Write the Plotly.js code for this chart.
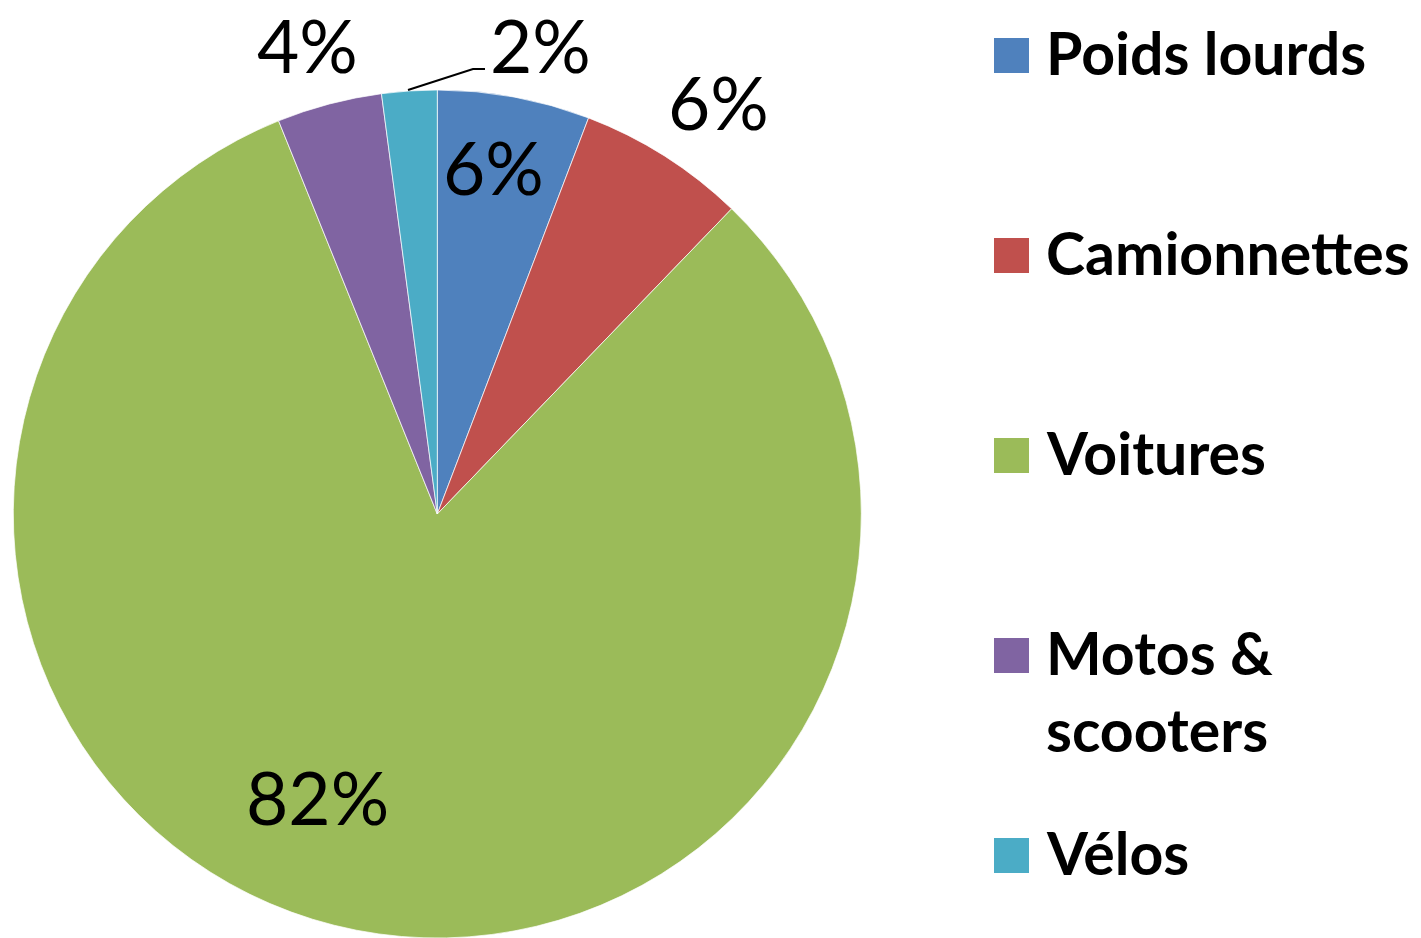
<!DOCTYPE html>
<html>
<head>
<meta charset="utf-8">
<script src="https://cdn.plot.ly/plotly-3.0.1.min.js"></script>
<style>
html, body { margin: 0; padding: 0; overflow: hidden; background: #ffffff; }
#chart { width: 1421px; height: 938px; }
</style>
</head>
<body>
<div id="chart"></div>
<script>
// ---- data ----
const categories = ['Poids lourds', 'Camionnettes', 'Voitures', 'Motos & scooters', 'Vélos'];
const legendLabels = ['Poids lourds', 'Camionnettes', 'Voitures', 'Motos &<br>scooters', 'Vélos'];
const shares = [5.8, 6.4, 81.6, 4.0, 2.1];
const colors = ['#4F81BD', '#C0504D', '#9BBB59', '#8064A2', '#4BACC6'];

// ---- layout geometry (pixels) ----
const W = 1421, H = 938;
const pieCx = 437.3, pieTop = 90;
const R = (H - pieTop) / 2;
// percentage label centres (pixels)
const labelSpots = [[493, 167], [719, 102], [317, 797], [307, 45], [540, 45]];
// leader line for the small slice
const leader = [[408, 90], [473, 69], [485, 69]];
// legend
const legSquareX = 994, legSquareSize = 35, legTop = 55.5, legStep = 200, legTextX = 1044;
const pctFont = 73, legFont = 59;

const px = x => x / W;
const py = y => 1 - y / H;

const total = shares.reduce((a, b) => a + b, 0);
const pctText = shares.map(v => Math.round(v / total * 100) + '%');

const trace = {
  type: 'pie',
  labels: categories,
  values: shares,
  sort: false,
  direction: 'clockwise',
  rotation: 0,
  textinfo: 'none',
  hoverinfo: 'label+percent',
  showlegend: false,
  marker: { colors: colors, line: { color: 'rgba(255,255,255,0.7)', width: 1 } },
  domain: { x: [px(pieCx - R), px(pieCx + R)], y: [0, py(pieTop)] }
};

const annotations = [];
const shapes = [];

pctText.forEach((t, i) => {
  annotations.push({
    xref: 'paper', yref: 'paper',
    x: px(labelSpots[i][0]), y: py(labelSpots[i][1]),
    xanchor: 'center', yanchor: 'middle',
    text: t, showarrow: false,
    font: { family: 'Lato, "Open Sans", sans-serif', size: pctFont, color: '#000000' }
  });
});

shapes.push({
  type: 'path', xref: 'paper', yref: 'paper',
  path: 'M' + leader.map(p => px(p[0]) + ',' + py(p[1])).join(' L'),
  line: { color: '#000000', width: 2 }
});

legendLabels.forEach((lab, i) => {
  const cy = legTop + legStep * i;
  shapes.push({
    type: 'rect', xref: 'paper', yref: 'paper',
    x0: px(legSquareX), x1: px(legSquareX + legSquareSize),
    y0: py(cy + legSquareSize / 2), y1: py(cy - legSquareSize / 2),
    fillcolor: colors[i], line: { width: 0 }
  });
  const nLines = lab.split('<br>').length;
  const textCy = cy - 3 + (nLines - 1) * legFont * 1.3 / 2;
  annotations.push({
    xref: 'paper', yref: 'paper',
    x: px(legTextX), y: py(textCy),
    xanchor: 'left', yanchor: 'middle', align: 'left',
    text: '<b>' + lab + '</b>', showarrow: false,
    font: { family: 'Lato, "Open Sans", sans-serif', size: legFont, color: '#000000' }
  });
});

const layout = {
  width: W, height: H,
  margin: { l: 0, r: 0, t: 0, b: 0 },
  paper_bgcolor: '#ffffff',
  showlegend: false,
  annotations: annotations,
  shapes: shapes
};

Plotly.newPlot('chart', [trace], layout, { displayModeBar: false });
</script>
</body>
</html>
